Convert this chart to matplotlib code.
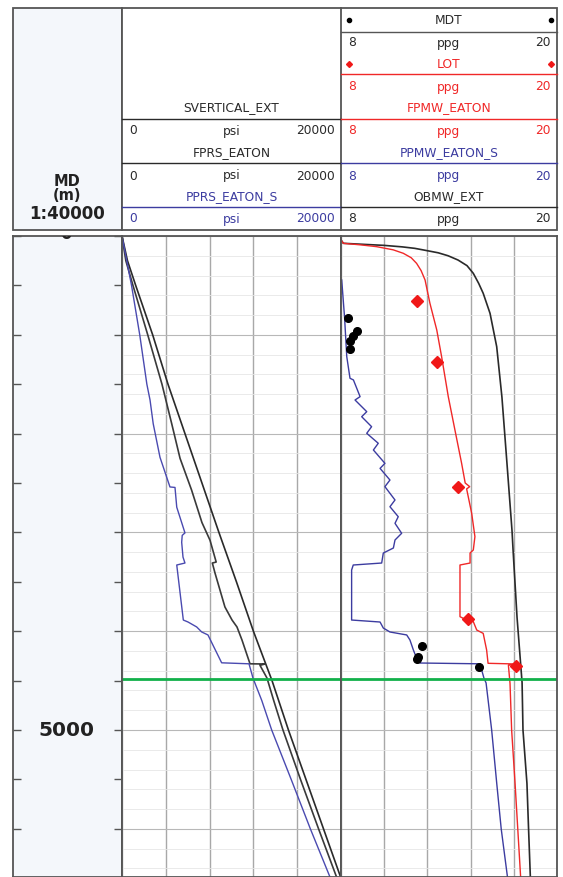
import numpy as np
import matplotlib
matplotlib.use("Agg")
import matplotlib.pyplot as plt
from matplotlib.transforms import ScaledTranslation

W, H, DPI = 563, 877, 100

# ---- track 1 (psi) ----
sv_depth = [0, 250, 500, 1000, 1500, 2000, 2500, 3000, 3500, 4000, 4500, 5000, 5500, 6000, 6500]
sv_psi = [0, 500, 1250, 2800, 4200, 5750, 7300, 8850, 10450, 12000, 13700, 15200, 16800, 18400, 20000]

fprs_depth = [0, 250, 500, 1000, 1500, 1900, 2250, 2570, 2900, 3080, 3300, 3310, 3410, 3755, 3887,
              3957, 4090, 4330, 4332, 4345, 4474, 4700, 5000, 5500, 6000, 6490]
fprs_psi = [0, 350, 1000, 2350, 3650, 4540, 5300, 6350, 7300, 8040, 8600, 8250, 8490, 9400, 10050,
            10500, 10960, 11690, 13060, 12600, 13240, 13850, 14700, 16300, 17950, 19600]

pprs_depth = [0, 500, 1000, 1500, 1660, 1900, 2240, 2540, 2545, 2745, 3005, 3030, 3100, 3250, 3310,
              3330, 3887, 3907, 3957, 4008, 4038, 4320, 4330, 4474, 4700, 5000, 5500, 6000, 6490]
pprs_psi = [0, 870, 1620, 2270, 2560, 2850, 3470, 4380, 4840, 5000, 5750, 5500, 5450, 5570, 5750,
            5000, 5600, 6030, 6820, 7280, 7850, 9100, 11600, 11960, 12760, 13670, 15450, 17200, 19000]

# ---- track 2 (ppg) ----
obmw_depth = [40, 74, 85, 95, 110, 125, 142, 170, 200, 243, 300, 378, 480, 580, 783, 1120, 1630,
              2300, 2980, 3180, 3860, 4520, 5000, 5540, 6000, 6490]
obmw_ppg = [8.0, 8.13, 9.3, 10.4, 11.4, 12.1, 12.6, 13.4, 13.95, 14.5, 15.0, 15.35, 15.65, 15.9,
            16.28, 16.65, 16.94, 17.22, 17.5, 17.56, 17.78, 18.06, 18.11, 18.33, 18.42, 18.52]

fpmw_depth = [40, 74, 90, 108, 140, 175, 220, 277, 350, 445, 681, 951, 1222, 1626, 1964, 2300,
              2500, 2537, 2560, 2807, 3043, 3178, 3209, 3310, 3330, 3853, 3887, 3903, 3988, 4022,
              4190, 4325, 4332, 4345, 4528, 5000, 5540, 6000, 6490]
fpmw_ppg = [8.0, 8.13, 9.1, 9.98, 10.9, 11.46, 11.9, 12.2, 12.45, 12.67, 12.94, 13.32, 13.59,
            13.96, 14.33, 14.7, 14.9, 15.15, 14.98, 15.26, 15.44, 15.35, 15.17, 15.17, 14.61, 14.61,
            14.98, 15.35, 15.54, 15.9, 16.09, 16.17, 17.76, 17.3, 17.39, 17.48, 17.67, 17.82, 17.98]

ppmw_depth = [445, 830, 1221, 1440, 1457, 1626, 1660, 1778, 1829, 1930, 1997, 2098, 2166, 2301,
              2352, 2470, 2537, 2672, 2740, 2841, 2908, 3009, 3077, 3158, 3209, 3310, 3330, 3381,
              3887, 3907, 3968, 4008, 4038, 4089, 4190, 4291, 4322, 4330, 4474, 4524, 5000, 5536,
              6000, 6490]
ppmw_ppg = [8.04, 8.2, 8.32, 8.5, 8.69, 9.06, 8.78, 9.43, 9.15, 9.7, 9.43, 10.07, 9.8, 10.44,
            10.17, 10.72, 10.44, 11.0, 10.72, 11.18, 11.0, 11.37, 11.0, 10.91, 10.35, 10.26, 8.68,
            8.59, 8.59, 10.17, 10.35, 10.72, 11.65, 11.83, 12.02, 12.24, 12.39, 15.72, 15.94, 16.06,
            16.37, 16.65, 16.9, 17.25]

mdt_depth = [827, 962, 1012, 1063, 1144, 4150, 4258, 4285, 4366]
mdt_ppg = [8.41, 8.87, 8.69, 8.5, 8.5, 12.48, 12.3, 12.2, 15.68]

lot_depth = [660, 1275, 2540, 3877, 4352]
lot_ppg = [12.2, 13.33, 14.5, 15.06, 17.72]

marker_depth = 4484
depth_labels = [0, 5000]

# ---- layout (pixels) ----
X_LEFT, X_D, X_T1, X_T2 = 13, 122, 341, 557
Y_TOP, Y_BOT = 236, 877
D_MAX = (Y_BOT - Y_TOP) / 0.0988

RED = "#f02828"
BLUE = "#3c3ca0"
BLACK = "#2a2a2a"
FRAME = "#555555"

fig = plt.figure(figsize=(W / DPI, H / DPI), dpi=DPI)
fig.patch.set_facecolor("white")


def box(x0, y0, x1, y1, **kw):
    return fig.add_axes([x0 / W, 1 - y1 / H, (x1 - x0) / W, (y1 - y0) / H], **kw)


def frame(ax):
    for s in ax.spines.values():
        s.set_color(FRAME)
        s.set_linewidth(1.3)


def track(ax, lo, hi, step):
    ax.set_xlim(lo, hi)
    ax.set_ylim(D_MAX, 0)
    ax.set_xticks(np.arange(lo, hi + 1e-6, step))
    ax.set_yticks(np.arange(0, D_MAX, 1000))
    ax.set_yticks(np.arange(0, D_MAX, 200), minor=True)
    ax.grid(axis="y", which="minor", color="#e6e6e6", lw=0.6)
    ax.grid(axis="y", which="major", color="#b8b8b8", lw=0.8)
    ax.grid(axis="x", which="major", color="#a8a8a8", lw=1.0)
    ax.tick_params(which="both", length=0, labelbottom=False, labelleft=False)
    ax.set_axisbelow(True)
    frame(ax)


# depth column
axd = box(X_LEFT, Y_TOP, X_D, Y_BOT)
axd.set_facecolor("#f4f7fb")
axd.set_xlim(0, 1)
axd.set_ylim(D_MAX, 0)
axd.set_xticks([])
axd.set_yticks(np.arange(0, D_MAX, 500))
axd.tick_params(axis="y", direction="in", left=True, right=True, length=6, width=1,
                color=FRAME, labelleft=False)
frame(axd)
for d in depth_labels:
    # the top label sits mostly under the header, as in the log display
    shift = ScaledTranslation(0, 2 / DPI if d == 0 else 0, fig.dpi_scale_trans)
    axd.text(0.49, d, str(d), transform=axd.get_yaxis_transform() + shift, ha="center",
             va="center", fontsize=14.5 if d else 12, fontweight="bold", color="#222222",
             clip_on=True)

# track 1
ax1 = box(X_D, Y_TOP, X_T1, Y_BOT)
track(ax1, 0, 20000, 4000)
ax1.plot(sv_psi, sv_depth, color=BLACK, lw=1.2)
ax1.plot(fprs_psi, fprs_depth, color="#3a3a3a", lw=1.2)
ax1.plot(pprs_psi, pprs_depth, color="#4a4ab0", lw=1.0)
ax1.axhline(marker_depth, color="#12b04a", lw=2)

# track 2
ax2 = box(X_T1, Y_TOP, X_T2, Y_BOT)
track(ax2, 8, 20, 2.4)
ax2.plot(obmw_ppg, obmw_depth, color=BLACK, lw=1.2)
ax2.plot(fpmw_ppg, fpmw_depth, color=RED, lw=1.0)
ax2.plot(ppmw_ppg, ppmw_depth, color=BLUE, lw=1.0)
ax2.plot(mdt_ppg, mdt_depth, "o", color="black", ms=5.5, zorder=5)
ax2.plot(lot_ppg, lot_depth, "D", color="#f01818", ms=6, zorder=5)
ax2.axhline(marker_depth, color="#12b04a", lw=2)

# header
hd = box(0, 0, W, H)
hd.set_xlim(0, W)
hd.set_ylim(H, 0)
hd.axis("off")
hd.patch.set_alpha(0)
hd.add_patch(plt.Rectangle((X_LEFT, 8), X_D - X_LEFT, 222, facecolor="#f4f7fb",
                           edgecolor=FRAME, lw=1.3))
hd.add_patch(plt.Rectangle((X_D, 8), X_T2 - X_D, 222, facecolor="white",
                           edgecolor=FRAME, lw=1.3))
hd.plot([X_T1, X_T1], [8, 230], color=FRAME, lw=1.3)

hd.text(67, 182, "MD", ha="center", va="center", fontsize=10.5, fontweight="bold", color="#222")
hd.text(67, 196, "(m)", ha="center", va="center", fontsize=10.5, fontweight="bold", color="#222")
hd.text(67, 214, "1:40000", ha="center", va="center", fontsize=12, fontweight="bold",
        color="#222")

FS = 8.8
c1 = (X_D + X_T1) / 2
c2 = (X_T1 + X_T2) / 2


def scale_row(x0, x1, y, lo, unit, hi, color):
    hd.text(x0 + 7, y, lo, ha="left", va="center", fontsize=FS, color=color)
    hd.text((x0 + x1) / 2, y, unit, ha="center", va="center", fontsize=FS, color=color)
    hd.text(x1 - 6, y, hi, ha="right", va="center", fontsize=FS, color=color)


# left track header
hd.text(c1, 108, "SVERTICAL_EXT", ha="center", va="center", fontsize=FS, color=BLACK)
hd.plot([X_D, X_T1], [119, 119], color=BLACK, lw=1)
scale_row(X_D, X_T1, 131, "0", "psi", "20000", BLACK)
hd.text(c1, 153, "FPRS_EATON", ha="center", va="center", fontsize=FS, color=BLACK)
hd.plot([X_D, X_T1], [163, 163], color=BLACK, lw=1)
scale_row(X_D, X_T1, 176, "0", "psi", "20000", BLACK)
hd.text(c1, 197, "PPRS_EATON_S", ha="center", va="center", fontsize=FS, color=BLUE)
hd.plot([X_D, X_T1], [207, 207], color=BLUE, lw=1)
scale_row(X_D, X_T1, 219, "0", "psi", "20000", BLUE)

# right track header
hd.text(c2, 20, "MDT", ha="center", va="center", fontsize=FS, color=BLACK)
hd.plot([X_T1 + 8, X_T2 - 6], [20, 20], "o", color="black", ms=3)
hd.plot([X_T1, X_T2], [32, 32], color=FRAME, lw=1)
scale_row(X_T1, X_T2, 43, "8", "ppg", "20", BLACK)
hd.text(c2, 64, "LOT", ha="center", va="center", fontsize=FS, color=RED)
hd.plot([X_T1 + 8, X_T2 - 6], [64, 64], "D", color="#f01818", ms=3)
hd.plot([X_T1, X_T2], [74, 74], color=RED, lw=1)
scale_row(X_T1, X_T2, 87, "8", "ppg", "20", RED)
hd.text(c2, 108, "FPMW_EATON", ha="center", va="center", fontsize=FS, color=RED)
hd.plot([X_T1, X_T2], [119, 119], color=RED, lw=1)
scale_row(X_T1, X_T2, 131, "8", "ppg", "20", RED)
hd.text(c2, 153, "PPMW_EATON_S", ha="center", va="center", fontsize=FS, color=BLUE)
hd.plot([X_T1, X_T2], [163, 163], color=BLUE, lw=1)
scale_row(X_T1, X_T2, 176, "8", "ppg", "20", BLUE)
hd.text(c2, 197, "OBMW_EXT", ha="center", va="center", fontsize=FS, color=BLACK)
hd.plot([X_T1, X_T2], [207, 207], color=BLACK, lw=1)
scale_row(X_T1, X_T2, 219, "8", "ppg", "20", BLACK)

fig.savefig("out.png", dpi=DPI)
